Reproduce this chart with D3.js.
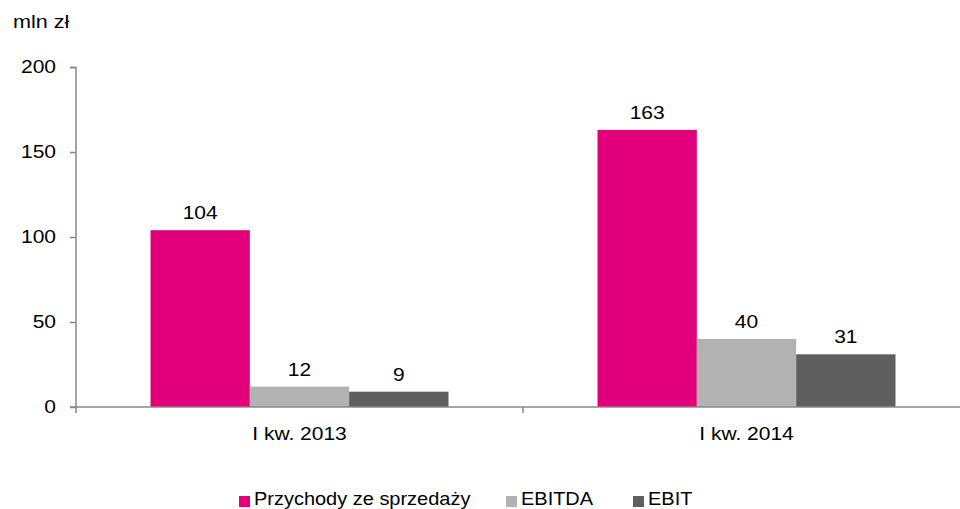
<!DOCTYPE html>
<html>
<head>
<meta charset="utf-8">
<script src="https://cdn.jsdelivr.net/npm/d3@7"></script>
<style>
  body { margin: 0; background: #fff; }
  svg { display: block; font-family: "Liberation Sans", Arial, sans-serif; }
</style>
</head>
<body>
<svg id="chart" width="960" height="509"></svg>
<script>
// data
const categories = ["I kw. 2013", "I kw. 2014"];
const seriesNames = ["Przychody ze sprzedaży", "EBITDA", "EBIT"];
const seriesColors = ["#e2007a", "#b2b2b2", "#5f5f5f"];
const przychody = [104, 163];
const ebitda = [12, 40];
const ebit = [9, 31];
const yTicks = [0, 50, 100, 150, 200];
const unitLabel = "mln zł";

const values = [przychody, ebitda, ebit];

const svg = d3.select("#chart");
const margin = {left: 76, top: 67, right: -10, bottom: 102};
const width = 960 - margin.left - margin.right;
const height = 509 - margin.top - margin.bottom;
const axisCol = "#888";
const fs = 17.5;      // font size
const sx = 1.2;       // reference text is a bit wider than Liberation Sans

// place a horizontally stretched text
function label(parent, x, y, txt, anchor, size, stretch) {
  return parent.append("text")
    .attr("transform", `translate(${x},${y}) scale(${stretch || sx},1)`)
    .attr("text-anchor", anchor || "start")
    .attr("font-size", size || fs)
    .attr("fill", "#000")
    .text(txt);
}

const g = svg.append("g").attr("transform", `translate(${margin.left},${margin.top})`);

const x0 = d3.scaleBand().domain(categories).range([0, width]);
// Excel gap width ~150% -> bars take 3/(3+1.5) of the band
const groupW = x0.bandwidth() * 3 / 4.5;
const x1 = d3.scaleBand().domain(seriesNames).range([0, groupW]);
const y = d3.scaleLinear().domain([0, 200]).range([height, 0]);

// y axis
const yAxis = g.append("g")
  .call(d3.axisLeft(y).tickValues(yTicks).tickSize(6).tickFormat(""));
yAxis.select(".domain").attr("stroke", axisCol).attr("stroke-width", 1.5)
  .attr("d", `M-6,0.5H0V${height + 6}`);
yAxis.selectAll(".tick line").attr("stroke", axisCol).attr("stroke-width", 1.5);
yTicks.forEach(t => label(g, -20, y(t) + 6, t, "end"));

// bars
seriesNames.forEach((s, si) => {
  const bx = c => x0(c) + (x0.bandwidth() - groupW) / 2 + x1(s);
  g.append("g").selectAll("rect")
    .data(categories)
    .join("rect")
    .attr("x", bx)
    .attr("y", (c, i) => y(values[si][i]))
    .attr("width", x1.bandwidth())
    .attr("height", (c, i) => height - y(values[si][i]))
    .attr("fill", seriesColors[si]);

  categories.forEach((c, i) => {
    label(g, bx(c) + x1.bandwidth() / 2, y(values[si][i]) - 11, values[si][i], "middle");
  });
});

// x axis
const xAxis = g.append("g")
  .attr("transform", `translate(0,${height})`)
  .call(d3.axisBottom(x0).tickSize(0).tickFormat(""));
xAxis.select(".domain").attr("stroke", axisCol).attr("stroke-width", 1.5)
  .attr("d", `M-6,0H${width}`);
categories.forEach(c => label(g, x0(c) + x0.bandwidth() / 2, height + 33, c, "middle"));
// category separators
g.append("g").selectAll("line")
  .data(categories.slice(1))
  .join("line")
  .attr("x1", c => x0(c)).attr("x2", c => x0(c))
  .attr("y1", height).attr("y2", height + 6)
  .attr("stroke", axisCol).attr("stroke-width", 1.5);

// unit label
label(svg, 13, 28, unitLabel, "start", 18);

// legend
const legendX = [239, 506, 633];
seriesNames.forEach((s, i) => {
  svg.append("rect")
    .attr("x", legendX[i]).attr("y", 496)
    .attr("width", 11).attr("height", 11)
    .attr("fill", seriesColors[i]);
  label(svg, legendX[i] + 15, 505, s, "start", 18, 1.11);
});
</script>
</body>
</html>
